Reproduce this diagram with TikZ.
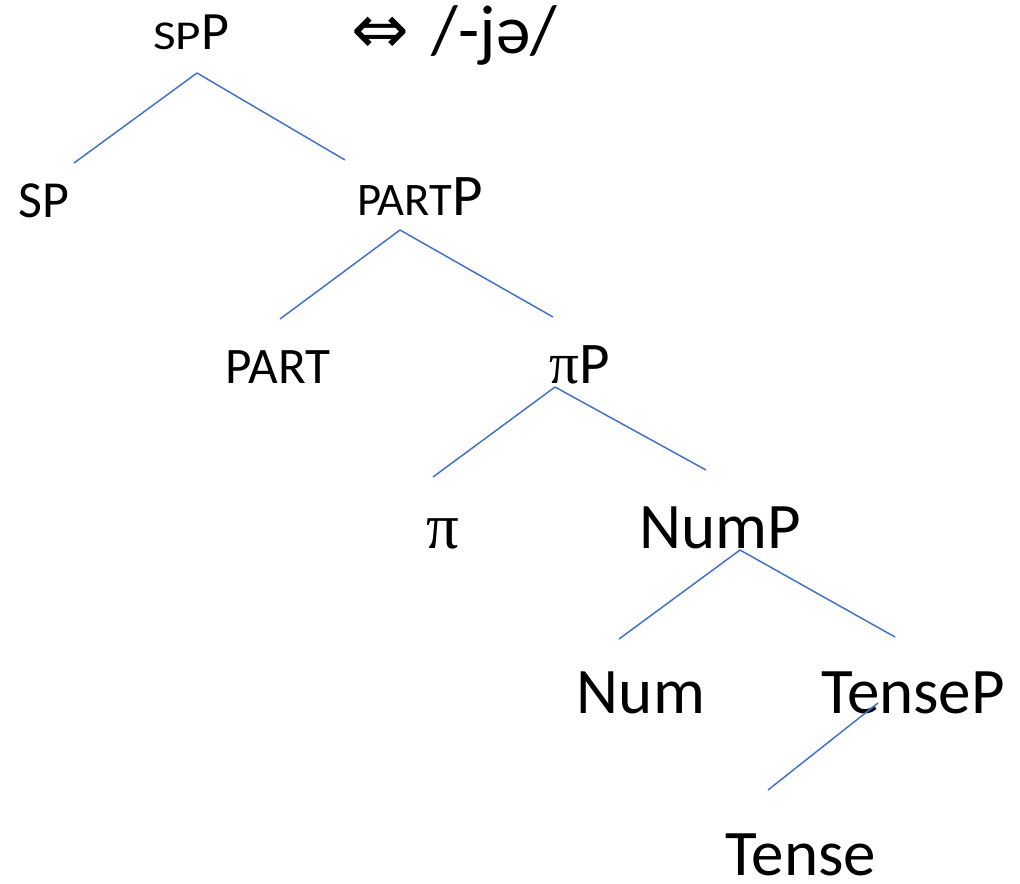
\documentclass[tikz,border=0pt]{standalone}
\usepackage{fontspec}
\setmainfont{Carlito}
\newfontfamily\widefont[FakeStretch=1.2]{Carlito}
\newfontfamily\symfont{DejaVu Sans}
\newfontfamily\greekfont{Liberation Serif}
\usepackage{xcolor}
\usepackage{tikz}
\definecolor{treeblue}{RGB}{68,114,196}
\newcommand{\fsz}[1]{\fontsize{#1}{#1}\selectfont}

\begin{document}
\begin{tikzpicture}[x=0.5pt,y=-0.5pt,
    branch/.style={treeblue, line width=0.75pt},
    lbl/.style={inner sep=0pt, anchor=base}]
        \useasboundingbox (0,0) rectangle (1020,883);
        % 节点
        \node[lbl] (spp) at (191,50) {{\widefont\fsz{20.5}SP}\fsz{27}P};
        \node[lbl, anchor=base west] (phon) at (351,54) {\fsz{34.5}{\symfont ⇔}\hspace{3.5pt} /-jə/};
        \node[lbl] (sp) at (44,217) {\fsz{26}SP};
        \node[lbl] (partp) at (420,215) {\fsz{23.3}PART\fsz{29.5}P};
        \node[lbl] (part) at (278,383) {\fsz{25.6}PART};
        \node[lbl] (pip) at (580,383) {\fsz{29.5}{\greekfont π}P};
        \node[lbl] (pi) at (443,548) {\fsz{32.5}\greekfont π};
        \node[lbl] (nump) at (720,548) {\fsz{32.5}NumP};
        \node[lbl] (num) at (641,713) {\fsz{32.5}Num};
        \node[lbl] (tensep) at (913,713) {\fsz{32.5}TenseP};
        \node[lbl] (tense) at (801,875) {\fsz{32.5}Tense};
        % 连线
        \draw[branch] ([shift={(6,23)}]spp.base) -- ([shift={(30,-54)}]sp.base);
        \draw[branch] ([shift={(6,23)}]spp.base) -- ([shift={(-75,-55)}]partp.base);
        \draw[branch] ([shift={(-20,15)}]partp.base) -- ([shift={(2,-64)}]part.base);
        \draw[branch] ([shift={(-20,15)}]partp.base) -- ([shift={(-27,-66)}]pip.base);
        \draw[branch] ([shift={(-25,4)}]pip.base) -- ([shift={(-10,-71)}]pi.base);
        \draw[branch] ([shift={(-25,4)}]pip.base) -- ([shift={(-14,-78)}]nump.base);
        \draw[branch] ([shift={(20,2)}]nump.base) -- ([shift={(-22,-74)}]num.base);
        \draw[branch] ([shift={(20,2)}]nump.base) -- ([shift={(-18,-76)}]tensep.base);
        \draw[branch] ([shift={(-35,-10)}]tensep.base) -- ([shift={(-33,-85)}]tense.base);
    \end{tikzpicture}
\end{document}
